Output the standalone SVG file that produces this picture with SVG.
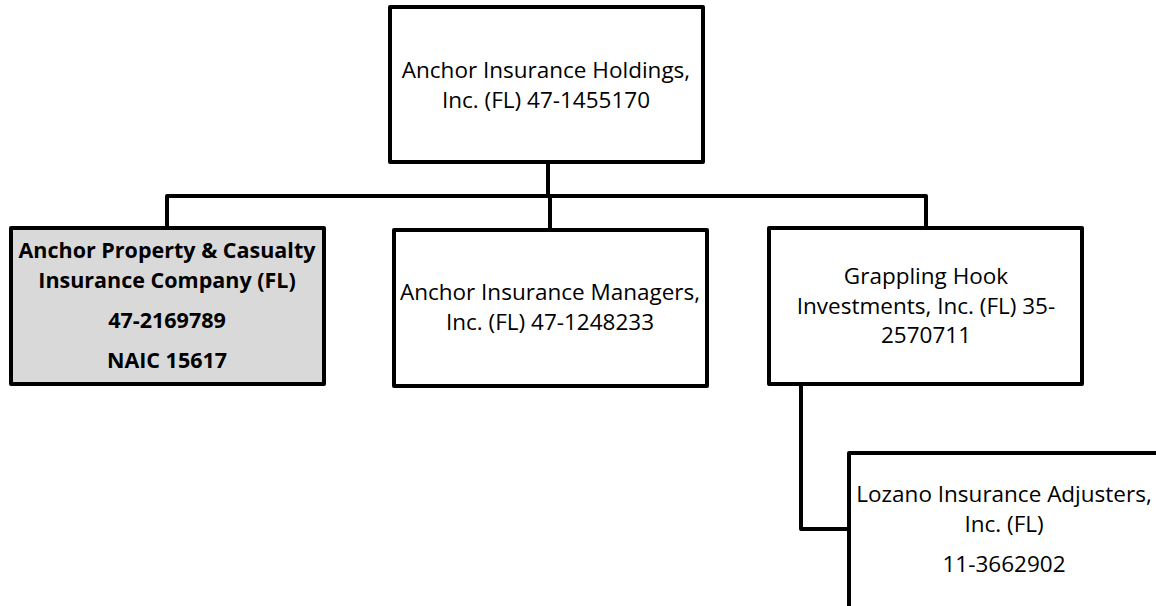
<svg xmlns="http://www.w3.org/2000/svg" width="1156" height="606" viewBox="0 0 1156 606">
<style>
.box{fill:#ffffff;stroke:#000;stroke-width:4;stroke-linejoin:round}
.grey{fill:#d9d9d9}
.conn{fill:none;stroke:#000;stroke-width:4;stroke-linejoin:round}
text{font-family:"Open Sans","Noto Sans","Liberation Sans",sans-serif;font-size:22.5px;fill:#000;text-anchor:middle}
.b{font-weight:bold;font-size:21.5px}
</style>
<rect width="1156" height="606" fill="#ffffff"/>
<g id="connectors">
<path class="conn" d="M548 162 V196 M167 228 V196 H926 V228 M550 196 V230 M801 385 V529 H849"/>
</g>
<g id="holdings">
<rect class="box" x="390" y="7" width="313" height="155"/>
<text x="546" y="78">Anchor Insurance Holdings,</text>
<text x="546" y="108">Inc. (FL) 47-1455170</text>
</g>
<g id="property-casualty">
<rect class="box grey" x="11" y="228" width="313" height="156"/>
<text class="b" x="167" y="258">Anchor Property &amp; Casualty</text>
<text class="b" x="167" y="288">Insurance Company (FL)</text>
<text class="b" x="167" y="328">47-2169789</text>
<text class="b" x="167" y="368">NAIC 15617</text>
</g>
<g id="managers">
<rect class="box" x="394" y="230" width="313" height="156"/>
<text x="550" y="300">Anchor Insurance Managers,</text>
<text x="550" y="330">Inc. (FL) 47-1248233</text>
</g>
<g id="grappling">
<rect class="box" x="769" y="228" width="313" height="156"/>
<text x="926" y="284">Grappling Hook</text>
<text x="926" y="314">Investments, Inc. (FL) 35-</text>
<text x="926" y="343">2570711</text>
</g>
<g id="lozano">
<rect class="box" x="849" y="453" width="320" height="170"/>
<text x="1004" y="502">Lozano Insurance Adjusters,</text>
<text x="1004" y="532">Inc. (FL)</text>
<text x="1004" y="572">11-3662902</text>
</g>
</svg>
